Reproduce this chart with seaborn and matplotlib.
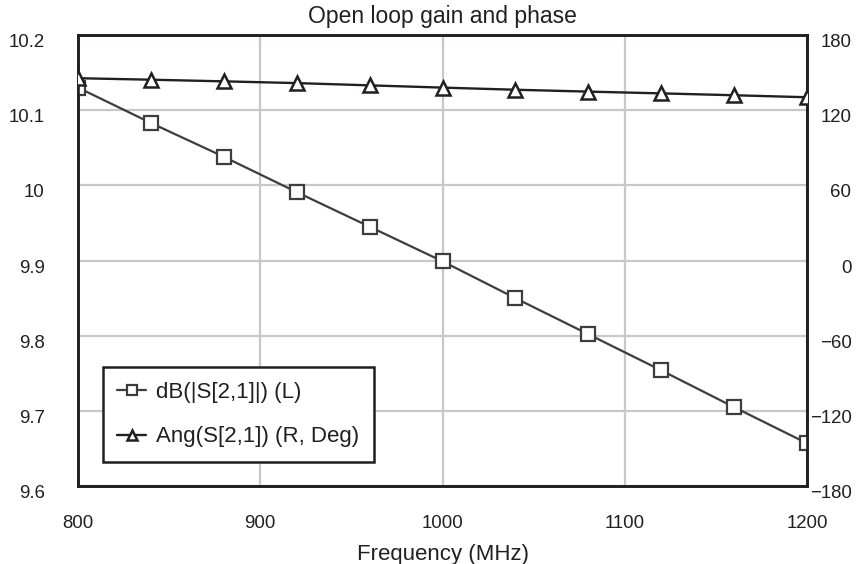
import matplotlib
matplotlib.use('Agg')
import matplotlib.pyplot as plt
import matplotlib.transforms as mtransforms
import seaborn as sns
import pandas as pd

# Datos
frecuencia = [800, 840, 880, 920, 960, 1000, 1040, 1080, 1120, 1160, 1200]
ganancia_db = [10.130, 10.083, 10.038, 9.991, 9.945, 9.899, 9.850, 9.802, 9.754, 9.705, 9.657]
fase_deg = [145.5, 144.3, 143.0, 141.6, 139.8, 138.0, 136.3, 134.8, 133.4, 131.9, 130.3]

xticks = [800, 900, 1000, 1100, 1200]
yticks_izq = [9.6, 9.7, 9.8, 9.9, 10, 10.1, 10.2]
yticks_der = [-180, -120, -60, 0, 60, 120, 180]
etiquetas_izq = ['9.6', '9.7', '9.8', '9.9', '10', '10.1', '10.2']
etiquetas_der = ['\u2212180', '\u2212120', '\u221260', '0', '60', '120', '180']

df = pd.DataFrame({'Frecuencia': frecuencia, 'Ganancia': ganancia_db, 'Fase': fase_deg})

sns.set_style('white')
plt.rcParams['font.family'] = ['Liberation Sans', 'DejaVu Sans']
texto = '#231f20'

fig, ax = plt.subplots(figsize=(8.65, 5.64), dpi=100)
fig.subplots_adjust(left=0.0902, right=0.933, top=0.938, bottom=0.138)
ax2 = ax.twinx()

# Curva de ganancia (eje izquierdo)
sns.lineplot(data=df, x='Frecuencia', y='Ganancia', ax=ax, color='#3d3d3d', linewidth=1.6,
             marker='s', markersize=9.5, markerfacecolor='white', markeredgecolor='#3d3d3d',
             markeredgewidth=1.6, label='dB(|S[2,1]|) (L)', legend=False, zorder=3)

# Curva de fase (eje derecho)
sns.lineplot(data=df, x='Frecuencia', y='Fase', ax=ax2, color=texto, linewidth=1.7,
             marker='^', markersize=10, markerfacecolor='white', markeredgecolor=texto,
             markeredgewidth=1.8, label='Ang(S[2,1]) (R, Deg)', legend=False, zorder=3)

ax.set_xlim(800, 1200)
ax.set_ylim(9.6, 10.2)
ax2.set_ylim(-180, 180)
ax.set_xticks(xticks)
ax.set_xticklabels([str(t) for t in xticks])
ax.set_yticks(yticks_izq)
ax.set_yticklabels(etiquetas_izq)
ax2.set_yticks(yticks_der)
ax2.set_yticklabels(etiquetas_der, ha='right')

ax.grid(True, color='#c8c8c8', linewidth=1.6)
ax2.grid(False)

ax.tick_params(axis='x', length=0, pad=21, labelsize=13.4, labelcolor=texto)
ax.tick_params(axis='y', length=0, pad=24, labelsize=13.4, labelcolor=texto)
ax2.tick_params(axis='y', length=0, pad=32, labelsize=13.4, labelcolor=texto)

# las etiquetas del eje y quedan un poco por debajo de la rejilla
desplaza = mtransforms.ScaledTranslation(0, -4 / 72, fig.dpi_scale_trans)
for lab in ax.get_yticklabels() + ax2.get_yticklabels():
    lab.set_transform(lab.get_transform() + desplaza)

for a in (ax, ax2):
    for s in a.spines.values():
        s.set_color(texto)
        s.set_linewidth(1.9)

ax.set_xlabel('Frequency (MHz)', fontsize=16, color=texto, labelpad=8.5)
ax.set_ylabel('')
ax2.set_ylabel('')
ax.set_title('Open loop gain and phase', fontsize=16.5, color=texto, pad=8.5)

# Leyenda combinada
h1, l1 = ax.get_legend_handles_labels()
h2, l2 = ax2.get_legend_handles_labels()
leg = ax2.legend(h1 + h2, l1 + l2, loc='lower left', bbox_to_anchor=(0.034, 0.054),
                 borderaxespad=0, fontsize=16, frameon=True, fancybox=False, framealpha=1,
                 edgecolor=texto, handlelength=1.3, handletextpad=0.45, labelspacing=1.07,
                 borderpad=0.65, markerscale=0.7)
leg.get_frame().set_linewidth(1.8)
for t in leg.get_texts():
    t.set_color(texto)

plt.savefig('out.png', dpi=100)
plt.close()
